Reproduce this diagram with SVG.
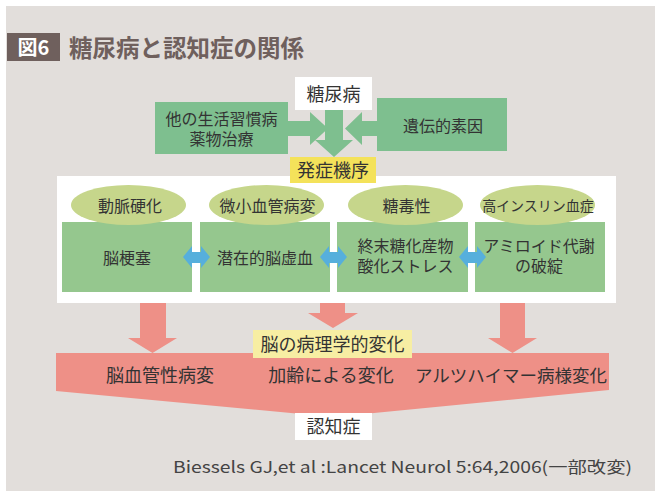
<svg xmlns="http://www.w3.org/2000/svg" width="655" height="491" viewBox="0 0 655 491">
<style>
text{font-family:"Noto Sans CJK JP","Noto Sans",sans-serif;fill:#333;}
.t16{font-size:16px;text-anchor:middle;}
.t18{font-size:18px;text-anchor:middle;}
.gtop{fill:#7ebf8f;}
.glow{fill:#95c78e;}
.ell{fill:#c6d68b;}
.blue{fill:#56afdc;}
.pink{fill:#ee9087;}
</style>
<rect x="0" y="0" width="655" height="491" fill="#ffffff"/>
<rect x="6" y="6" width="649" height="485" fill="#e2dedb"/>
<g id="title">
<rect x="7" y="33" width="53" height="28" fill="#6f605d"/>
<text x="33.5" y="55" style="font-size:20px;fill:#fff;font-weight:bold;text-anchor:middle">図6</text>
<text x="69" y="57" style="font-size:23.5px;fill:#6f605d;font-weight:bold">糖尿病と認知症の関係</text>
</g>
<g id="panel">
<rect x="57" y="176" width="559" height="127" fill="#fff"/>
</g>
<g id="n-diabetes">
<rect x="295" y="77" width="77" height="33" fill="#fff"/>
<text class="t18" x="333.5" y="101">糖尿病</text>
</g>
<g id="n-lifestyle">
<rect x="155" y="102" width="133" height="52" class="gtop"/>
<text class="t16" x="221.5" y="125">他の生活習慣病</text>
<text class="t16" x="221.5" y="145">薬物治療</text>
</g>
<g id="n-genetic">
<rect x="377" y="98" width="130" height="53" class="gtop"/>
<text class="t16" x="443" y="132">遺伝的素因</text>
</g>
<g id="n-infarct">
<rect x="62" y="222" width="130" height="70" class="glow"/>
<text class="t16" x="127" y="264">脳梗塞</text>
</g>
<g id="n-ischemia">
<rect x="200" y="222" width="130" height="70" class="glow"/>
<text class="t16" x="265" y="264">潜在的脳虚血</text>
</g>
<g id="n-ages">
<rect x="337" y="222" width="131" height="70" class="glow"/>
<text class="t16" x="405.5" y="252">終末糖化産物</text>
<text class="t16" x="405.5" y="272">酸化ストレス</text>
</g>
<g id="n-amyloid">
<rect x="475" y="222" width="130" height="70" class="glow"/>
<text class="t16" x="539" y="252">アミロイド代謝</text>
<text class="t16" x="539" y="272">の破綻</text>
</g>
<g id="n-athero">
<ellipse cx="128.5" cy="205" rx="57.5" ry="20" class="ell"/>
<text class="t16" x="130" y="212">動脈硬化</text>
</g>
<g id="n-micro">
<ellipse cx="266.5" cy="205" rx="57.5" ry="20" class="ell"/>
<text class="t16" x="267.5" y="212">微小血管病変</text>
</g>
<g id="n-glucotox">
<ellipse cx="405.5" cy="205" rx="57.5" ry="20" class="ell"/>
<text class="t16" x="406.5" y="212">糖毒性</text>
</g>
<g id="n-hyperins">
<ellipse cx="537.5" cy="205" rx="57.5" ry="20" class="ell"/>
<text x="538" y="211" style="font-size:14px;text-anchor:middle">高インスリン血症</text>
</g>
<g id="connectors">
<polygon class="gtop" points="288,121 310,121 310,112 328,128.5 310,145 310,136 288,136"/>
<polygon class="gtop" points="377,121 362,121 362,112 345,128.5 362,145 362,136 377,136"/>
<polygon class="gtop" points="325,110 343,110 343,140 353,140 334,157 315,140 325,140"/>
<polygon class="blue" points="183,257 192,246 192,252 201,252 201,246 210,257 201,268 201,263 192,263 192,268"/>
<polygon class="blue" points="320,257 329,246 329,252 338,252 338,246 347,257 338,268 338,263 329,263 329,268"/>
<polygon class="blue" points="459,257 468,246 468,252 477,252 477,246 486,257 477,268 477,263 468,263 468,268"/>
<polygon class="pink" points="140,303 166,303 166,338 177,338 152.5,353 128,338 140,338"/>
<polygon class="pink" points="320,303 345,303 345,313 358,313 333,328 308,313 320,313"/>
<polygon class="pink" points="500,303 525,303 525,338 537,338 512.5,353 488,338 500,338"/>
</g>
<g id="n-mechanism">
<rect x="290" y="157" width="86" height="26" fill="#f4e25a"/>
<text class="t18" x="333" y="177">発症機序</text>
</g>
<g id="n-brainchange">
<polygon class="pink" points="56,353 609,353 609,390 333,417 56,391"/>
<text x="160" y="382" style="font-size:18px;text-anchor:middle">脳血管性病変</text>
<text x="331" y="382" style="font-size:18px;text-anchor:middle">加齢による変化</text>
<text x="511" y="382" style="font-size:17.5px;text-anchor:middle">アルツハイマー病様変化</text>
</g>
<g id="n-pathology">
<rect x="253" y="330" width="159" height="28" fill="#f7eea3"/>
<text class="t18" x="332.5" y="351">脳の病理学的変化</text>
</g>
<g id="n-dementia">
<rect x="295" y="413" width="77" height="27" fill="#fff"/>
<text class="t18" x="333.5" y="433">認知症</text>
</g>
<text x="173" y="473" textLength="459" lengthAdjust="spacingAndGlyphs" style="font-size:16px;fill:#444">Biessels GJ,et al :Lancet Neurol 5:64,2006(一部改変)</text>
</svg>
